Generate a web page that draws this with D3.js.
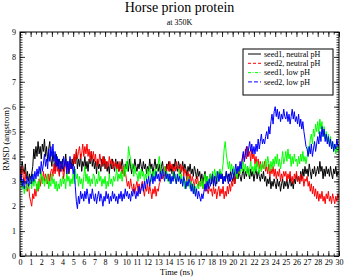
<!DOCTYPE html>
<html>
<head>
<meta charset="utf-8">
<script src="https://cdn.jsdelivr.net/npm/d3@7"></script>
<style>
  body { margin: 0; background: #fff; }
  svg { display: block; font-family: "Liberation Serif", "DejaVu Serif", serif; }
  .axis path { display: none; }
  .axis line { stroke: #000; stroke-width: 0.8; }
  .axis text { font-size: 8px; fill: #000; font-family: "Liberation Serif", serif; }
</style>
</head>
<body>
<div id="chart"></div>
<script>
// sampling step of the traces (ns)
const timeStep = 0.1;

// RMSD traces (angstrom), one value every 0.1 ns (one row per ns)
const seed1Neutral = [
  3.6,3.2,3.8,3.5,3.3,3.7,3.1,3.4,3.0,3.3,
  2.9,3.3,3.6,4.3,3.9,4.4,4.0,4.6,4.1,4.4,
  3.9,4.5,4.2,4.7,4.0,4.4,3.8,4.3,4.6,3.9,
  3.6,4.2,3.8,3.4,4.1,3.6,3.9,3.3,3.8,3.5,
  3.9,3.4,3.7,4.1,3.5,3.8,3.3,3.7,3.5,3.9,
  3.6,4.0,3.7,4.2,3.5,3.9,3.6,4.1,3.4,3.8,
  3.6,4.0,3.5,3.8,3.4,3.9,3.7,4.2,3.6,3.9,
  3.5,3.8,3.3,3.9,3.5,3.7,3.4,3.9,3.6,4.0,
  3.5,3.8,3.4,3.7,3.3,3.8,3.5,3.9,3.6,3.4,
  3.9,3.5,3.8,3.4,3.7,3.5,3.9,3.6,3.3,3.7,
  3.5,3.8,3.4,3.9,3.6,3.3,3.7,3.5,3.9,3.6,
  3.4,3.7,3.5,3.9,3.6,3.4,3.8,3.5,3.7,3.3,
  3.6,3.4,3.9,3.5,3.7,3.3,3.6,3.9,3.5,3.7,
  3.4,3.7,3.3,3.6,3.8,3.4,3.5,3.2,3.7,3.5,
  3.8,3.4,3.6,3.3,3.7,3.5,3.9,3.6,3.4,3.8,
  3.6,3.3,3.5,3.8,3.4,3.7,3.5,3.2,3.6,3.4,
  3.7,3.3,3.5,3.2,3.6,3.4,3.1,3.5,3.2,3.4,
  3.0,3.3,2.9,3.2,3.4,3.0,3.2,2.8,3.1,3.3,
  2.9,3.2,2.8,3.1,3.3,2.9,3.2,3.0,3.4,3.1,
  3.3,2.9,3.2,3.0,3.4,3.1,3.3,3.0,3.4,3.2,
  3.0,3.3,2.9,3.2,3.5,3.1,3.4,3.2,3.0,3.3,
  3.5,3.1,3.4,3.2,3.6,3.3,3.1,3.5,3.2,3.4,
  3.0,3.3,3.5,3.1,3.4,3.2,3.0,3.3,3.1,3.4,
  3.0,3.2,2.8,3.1,2.9,3.2,2.7,3.0,2.8,3.1,
  2.9,2.7,3.1,2.8,3.0,2.6,2.9,3.1,2.7,3.0,
  2.8,3.1,2.7,2.9,3.2,2.8,3.0,2.7,3.1,2.9,
  3.3,3.0,3.2,2.9,3.4,3.1,3.5,3.2,3.6,3.3,
  3.5,3.2,3.7,3.4,3.1,3.5,3.3,3.6,3.2,3.4,
  3.6,3.3,3.8,3.4,3.6,3.1,3.5,3.2,3.6,3.3,
  3.5,3.2,3.6,3.3,3.1,3.5,3.3,3.6,3.2,3.4,
  3.3
];
const seed2Neutral = [
  3.4,3.1,3.6,3.2,2.9,3.4,2.8,2.6,2.9,2.4,
  2.2,2.0,2.5,2.3,2.7,2.4,2.9,2.6,3.1,2.8,
  3.2,2.9,3.4,3.0,3.3,3.1,2.9,3.3,3.0,3.4,
  3.5,3.2,3.7,3.3,3.8,3.4,3.6,3.2,3.7,3.4,
  3.6,3.1,3.5,3.8,3.3,3.7,3.4,3.9,3.5,3.6,
  3.8,4.1,3.7,4.3,3.9,4.2,4.4,3.9,4.1,4.5,
  4.0,4.4,4.1,4.5,4.0,4.3,3.8,4.2,3.9,4.2,
  3.8,4.1,3.6,3.9,3.7,4.1,3.8,3.6,4.0,3.7,
  3.9,3.5,3.8,3.6,4.0,3.7,3.9,3.5,3.8,3.6,
  3.8,3.5,3.7,3.4,3.8,3.5,3.3,3.6,3.2,3.4,
  3.1,2.8,3.0,2.7,3.1,2.8,2.6,2.9,2.5,2.8,
  3.0,2.6,2.9,2.5,2.8,3.0,2.7,2.4,2.8,2.6,
  2.9,2.5,2.8,2.6,2.3,2.7,2.5,2.8,2.4,2.7,
  2.6,2.9,3.0,3.3,3.1,3.5,3.2,3.6,3.4,3.7,
  3.4,3.8,3.5,3.7,3.3,3.6,3.4,3.8,3.5,3.6,
  3.3,3.7,3.4,3.6,3.2,3.5,3.3,3.0,3.4,3.1,
  3.3,2.9,3.2,3.0,2.8,3.1,2.9,3.2,2.8,3.0,
  2.8,3.1,2.7,2.9,2.6,3.0,2.7,2.5,2.8,2.6,
  2.7,2.4,2.8,2.5,2.7,2.3,2.6,2.8,2.4,2.7,
  2.5,2.8,2.3,2.6,2.4,2.8,2.5,2.9,2.6,3.0,
  2.8,3.2,2.9,3.4,3.1,3.6,3.3,3.7,3.5,3.9,
  4.1,3.8,4.3,3.9,4.4,4.0,4.2,3.8,4.3,3.9,
  4.1,3.7,4.0,3.6,3.9,3.5,3.8,3.4,3.7,3.5,
  3.8,3.4,3.6,3.3,3.7,3.2,3.5,3.3,3.6,3.2,
  3.5,3.1,3.4,3.2,3.5,3.0,3.3,3.1,3.4,3.2,
  3.4,3.0,3.3,3.1,3.4,3.0,3.2,2.9,3.3,3.1,
  3.4,3.0,3.2,2.9,3.3,3.0,3.2,2.8,3.1,3.0,
  3.2,2.8,3.0,2.6,2.9,2.5,2.8,2.4,2.7,2.3,
  2.6,2.2,2.5,2.3,2.6,2.2,2.4,2.1,2.5,2.3,
  2.6,2.2,2.4,2.1,2.5,2.3,2.1,2.4,2.2,2.5,
  2.3
];
const seed1Low = [
  2.9,3.2,2.7,3.0,2.5,2.8,2.6,3.0,2.7,2.9,
  3.1,2.7,3.3,2.8,3.1,2.9,2.6,3.0,2.7,3.2,
  3.4,2.9,3.2,2.8,3.1,2.9,3.3,2.7,3.0,2.8,
  3.3,2.9,3.1,2.7,3.0,2.6,2.9,2.7,3.1,2.8,
  3.2,2.9,3.1,2.7,3.4,3.0,3.2,2.8,3.1,2.9,
  3.3,2.9,3.5,3.1,3.3,2.8,3.2,2.9,3.1,2.7,
  3.2,3.6,3.0,3.3,2.9,3.2,2.8,3.1,2.9,3.3,
  3.2,2.8,3.1,2.9,3.4,3.0,3.2,2.8,3.1,2.9,
  3.2,2.7,3.0,2.8,3.3,2.9,3.1,2.8,3.2,3.0,
  3.2,3.5,3.0,3.3,3.1,3.4,3.0,3.3,3.6,3.2,
  3.8,3.4,4.4,4.1,3.9,3.5,3.7,3.2,3.6,3.3,
  3.3,3.0,3.4,3.1,3.5,3.2,3.4,3.0,3.3,3.1,
  3.5,3.2,3.6,3.3,3.0,3.4,3.1,3.5,3.2,3.4,
  3.7,4.0,3.6,3.3,3.5,3.2,3.6,3.1,3.4,3.0,
  3.3,2.9,3.2,3.0,3.4,3.1,3.3,2.9,3.2,3.0,
  3.5,3.0,3.3,2.8,3.1,2.7,3.0,2.8,3.2,2.9,
  2.7,3.0,2.6,2.9,2.5,2.8,2.6,2.9,2.7,3.0,
  2.8,3.1,2.7,3.0,3.3,2.9,3.2,2.8,3.1,3.3,
  3.0,3.4,3.1,3.5,3.2,3.4,3.0,3.3,3.5,3.2,
  3.4,3.7,4.3,4.6,4.1,3.8,3.5,3.8,3.4,3.7,
  3.3,3.6,3.2,3.5,3.1,3.4,3.6,3.3,3.7,3.4,
  3.8,3.4,3.7,3.3,3.6,3.2,3.5,3.8,3.4,3.6,
  3.3,3.7,3.4,3.8,3.5,3.3,3.7,3.4,3.8,3.5,
  3.5,3.9,3.6,4.0,3.7,3.4,3.8,3.5,3.9,3.6,
  4.0,3.7,4.1,3.6,3.9,3.5,3.8,4.2,3.7,3.9,
  4.2,3.8,4.3,3.9,4.1,3.6,4.0,3.7,4.1,3.8,
  3.9,3.6,4.0,3.7,4.1,3.8,4.2,3.8,4.0,3.7,
  4.0,4.4,4.2,4.7,4.9,4.5,5.1,4.8,5.3,5.0,
  5.4,4.9,5.5,5.1,5.4,4.8,5.2,4.7,5.0,4.6,
  4.9,4.5,4.8,4.3,4.6,4.2,4.5,4.1,4.4,4.2,
  4.5
];
const seed2Low = [
  3.0,3.3,2.8,3.1,2.7,3.0,2.9,3.2,2.8,3.0,
  3.2,2.9,3.3,3.0,3.4,3.1,3.5,3.2,3.6,3.3,
  3.8,3.4,3.7,4.1,3.6,3.9,3.5,4.3,3.8,4.4,
  4.0,4.5,3.8,4.2,3.6,4.0,3.5,3.9,3.4,3.8,
  3.5,4.0,3.6,3.9,3.3,3.8,3.4,4.0,3.5,3.7,
  3.3,3.6,2.8,2.2,1.9,2.4,2.1,2.6,2.3,2.5,
  2.2,2.6,2.3,2.7,2.4,2.1,2.5,2.3,2.7,2.4,
  2.2,2.5,2.1,2.4,2.6,2.2,2.5,2.3,2.0,2.4,
  2.2,2.6,2.3,2.5,2.1,2.4,2.2,2.6,2.3,2.5,
  2.2,2.4,2.1,2.5,2.3,2.6,2.2,2.5,2.3,2.7,
  2.4,2.6,2.3,2.5,2.2,2.6,2.4,2.7,2.5,2.3,
  2.6,2.4,2.8,2.5,2.7,2.9,2.6,3.0,2.7,3.1,
  2.9,3.2,2.8,3.1,3.3,2.9,3.2,3.0,3.4,3.1,
  3.3,3.0,3.4,3.1,3.5,3.2,3.0,3.4,3.1,3.3,
  3.0,3.3,2.9,3.2,3.0,3.4,3.1,2.9,3.3,3.0,
  3.2,2.9,3.1,2.8,3.2,3.0,2.7,3.0,2.8,3.1,
  2.9,2.6,2.9,2.5,2.8,2.4,2.7,2.3,2.6,2.4,
  2.2,2.5,2.3,2.6,2.9,2.6,3.0,2.7,3.1,2.8,
  3.0,3.3,2.9,3.2,2.8,3.1,3.4,3.0,3.3,3.1,
  3.3,2.9,3.2,3.0,3.4,3.1,2.9,3.3,3.0,3.2,
  3.5,3.1,3.4,3.7,3.3,3.6,3.4,3.8,3.5,3.9,
  4.2,3.8,4.1,4.4,4.0,4.3,4.6,4.2,4.5,4.1,
  4.4,4.1,4.5,4.2,4.7,4.3,4.6,4.9,4.5,4.7,
  4.5,4.8,5.0,4.7,5.2,4.9,5.4,5.7,5.3,5.8,
  6.0,5.6,5.9,5.5,5.8,5.4,5.7,5.5,5.9,5.6,
  5.5,5.8,5.4,5.7,5.3,5.6,5.9,5.5,5.8,5.4,
  5.6,5.3,5.7,5.2,5.5,5.1,5.4,5.0,4.7,4.4,
  4.3,4.0,4.4,4.1,4.5,4.0,4.3,4.6,4.2,4.5,
  4.8,4.5,5.0,4.6,5.2,4.8,5.1,4.6,4.9,4.5,
  4.8,4.4,4.7,4.3,4.6,4.2,4.5,4.3,4.7,4.4,
  4.5
];

const seriesNames = ["seed1, neutral pH", "seed2, neutral pH", "seed1, low pH", "seed2, low pH"];
const seriesValues = [seed1Neutral, seed2Neutral, seed1Low, seed2Low];
const seriesColors = ["#000000", "#ff0000", "#00ff00", "#0000ff"];
const seriesDash = [null, "3,2", "3,1.5,1,1.5", "4,2"];

const xTicks = d3.range(0, 31, 1);
const yTicks = d3.range(0, 10, 1);

const WIDTH = 346, HEIGHT = 278;
const MARGIN = { LEFT: 20, RIGHT: 7, TOP: 32, BOTTOM: 22 };
const W = WIDTH - MARGIN.LEFT - MARGIN.RIGHT;
const H = HEIGHT - MARGIN.TOP - MARGIN.BOTTOM;

const svg = d3.select("#chart").append("svg")
  .attr("width", WIDTH)
  .attr("height", HEIGHT);

const g = svg.append("g")
  .attr("transform", `translate(${MARGIN.LEFT}, ${MARGIN.TOP})`);

const x = d3.scaleLinear().domain([0, 30]).range([0, W]);
const y = d3.scaleLinear().domain([0, 9]).range([H, 0]);

// clip traces to the frame
svg.append("defs").append("clipPath").attr("id", "clip")
  .append("rect").attr("width", W).attr("height", H);

const line = d3.line()
  .x((d, i) => x(i * timeStep))
  .y((d) => y(d));

const traces = g.append("g").attr("clip-path", "url(#clip)");
seriesValues.forEach((vals, k) => {
  traces.append("path")
    .datum(vals)
    .attr("fill", "none")
    .attr("stroke", seriesColors[k])
    .attr("stroke-width", 1)
    .attr("stroke-linejoin", "round")
    .attr("d", line);
});

// axes: major + minor ticks, all pointing inward, on every side
const xMinor = d3.range(0, 30.01, 0.5);
const yMinor = d3.range(0, 9.001, 0.1);

g.append("g").attr("class", "axis")
  .attr("transform", `translate(0, ${H})`)
  .call(d3.axisBottom(x).tickValues(xMinor).tickSize(-2.5).tickFormat(""));
g.append("g").attr("class", "axis")
  .attr("transform", `translate(0, ${H})`)
  .call(d3.axisBottom(x).tickValues(xTicks).tickSize(-5).tickPadding(3).tickFormat(d3.format("d")));
g.append("g").attr("class", "axis")
  .call(d3.axisTop(x).tickValues(xMinor).tickSize(-2.5).tickFormat(""));
g.append("g").attr("class", "axis")
  .call(d3.axisTop(x).tickValues(xTicks).tickSize(-5).tickFormat(""));

g.append("g").attr("class", "axis")
  .call(d3.axisLeft(y).tickValues(yMinor).tickSize(-2.5).tickFormat(""));
g.append("g").attr("class", "axis")
  .call(d3.axisLeft(y).tickValues(yTicks).tickSize(-5).tickPadding(4).tickFormat(d3.format("d")));
g.append("g").attr("class", "axis")
  .attr("transform", `translate(${W}, 0)`)
  .call(d3.axisRight(y).tickValues(yMinor).tickSize(-2.5).tickFormat(""));
g.append("g").attr("class", "axis")
  .attr("transform", `translate(${W}, 0)`)
  .call(d3.axisRight(y).tickValues(yTicks).tickSize(-5).tickFormat(""));

// frame
g.append("rect")
  .attr("width", W).attr("height", H)
  .attr("fill", "none").attr("stroke", "#000").attr("stroke-width", 1);

// titles
svg.append("text")
  .attr("x", MARGIN.LEFT + W / 2).attr("y", 12)
  .attr("text-anchor", "middle").attr("font-size", 14)
  .text("Horse prion protein");
svg.append("text")
  .attr("x", MARGIN.LEFT + W / 2).attr("y", 25)
  .attr("text-anchor", "middle").attr("font-size", 8)
  .text("at 350K");
svg.append("text")
  .attr("x", MARGIN.LEFT + W / 2 - 3).attr("y", 275)
  .attr("text-anchor", "middle").attr("font-size", 8.5)
  .text("Time (ns)");
svg.append("text")
  .attr("transform", `translate(9, ${MARGIN.TOP + H / 2 - 5}) rotate(-90)`)
  .attr("text-anchor", "middle").attr("font-size", 8.5)
  .text("RMSD (angstrom)");

// legend
const legend = svg.append("g").attr("transform", "translate(243, 49)");
legend.append("rect")
  .attr("width", 90).attr("height", 46)
  .attr("fill", "#fff").attr("stroke", "#000").attr("stroke-width", 1);
seriesNames.forEach((name, k) => {
  const ly = 5 + k * 9.3;
  legend.append("line")
    .attr("x1", 5).attr("x2", 18).attr("y1", ly).attr("y2", ly)
    .attr("stroke", seriesColors[k]).attr("stroke-width", 1)
    .attr("stroke-dasharray", seriesDash[k]);
  legend.append("text")
    .attr("x", 21).attr("y", ly + 2.8)
    .attr("font-size", 8)
    .text(name);
});
</script>
</body>
</html>
